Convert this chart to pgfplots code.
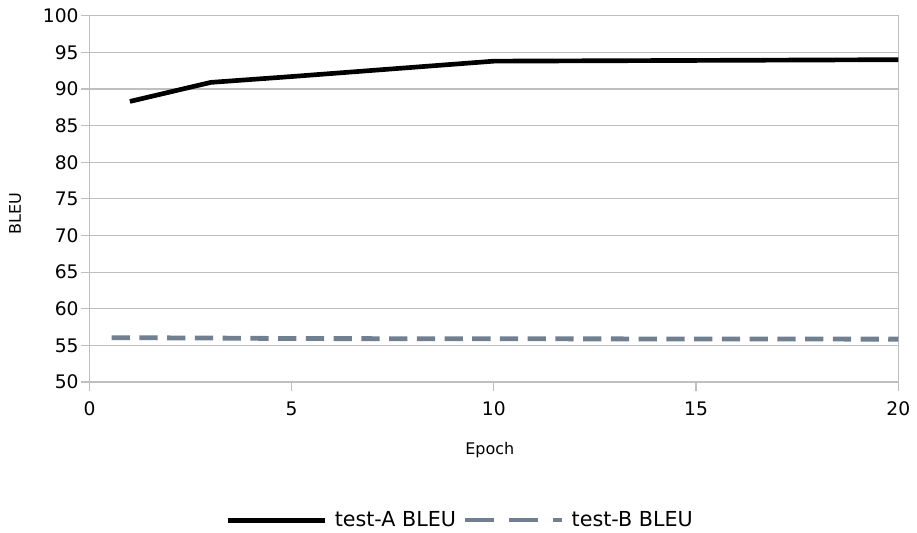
\documentclass[border=0pt]{standalone}
\usepackage{fontspec}
\setmainfont{DejaVu Sans}
\usepackage{pgfplots}
\pgfplotsset{compat=1.18}
\definecolor{gridgray}{RGB}{191,191,191}
\definecolor{seriesB}{RGB}{112,128,144}
\begin{document}
\begin{tikzpicture}[x=1pt,y=1pt]
\path[use as bounding box] (0,0) rectangle (687.75,399);
\begin{axis}[
  at={(67.1pt,112.5pt)}, anchor=south west,
  scale only axis, width=606.6pt, height=274.7pt,
  xmin=0, xmax=20, ymin=50, ymax=100,
  axis lines=box,
  xtick={0,5,10,15,20}, ytick={50,55,60,65,70,75,80,85,90,95,100},
  ymajorgrids, major grid style={gridgray, line width=0.9pt},
  axis line style={gridgray, line width=0.9pt},
  tick align=outside, tick pos=left, major tick length=6.5pt,
  tick style={gridgray, line width=0.9pt},
  /pgf/number format/assume math mode=true,
  ticklabel style={font=\fontsize{14}{16}\selectfont},
  yticklabel style={inner sep=0pt, anchor=east, xshift=-1.5pt},
  xticklabel style={inner sep=0pt, anchor=north, yshift=-8pt},
  xlabel={Epoch}, ylabel={BLEU},
  label style={font=\fontsize{12}{14}\selectfont},
  xlabel style={at={(axis description cs:0.495,-0.185)}, anchor=center},
  ylabel style={at={(axis description cs:-0.092,0.46)}, anchor=center},
  legend style={at={(axis description cs:0.457,-0.378)}, anchor=center, draw=none,
    font=\fontsize{15.5}{18}\selectfont, column sep=5.5pt, nodes={inner sep=0pt}},
  legend columns=2,
]
\addplot[black, line width=3.5pt, line join=round,
  legend image code/.code={\draw[black, line width=3.75pt] (0pt,0pt) -- (72.75pt,0pt);}]
  coordinates {(1,88.3) (3,90.9) (5,91.7) (10,93.8) (20,94.0)};
\addlegendentry{test-A BLEU}
\addplot[seriesB, line width=3.6pt, dash pattern=on 13.7pt off 7.1pt,
  legend image code/.code={\draw[seriesB, line width=3pt, dash pattern=on 21.75pt off 11.25pt] (0pt,0pt) -- (72.75pt,0pt);}]
  coordinates {(0.55,56.05) (3,56.0) (5,55.93) (10,55.9) (20,55.85)};
\addlegendentry{test-B BLEU}
\end{axis}
\end{tikzpicture}
\end{document}
